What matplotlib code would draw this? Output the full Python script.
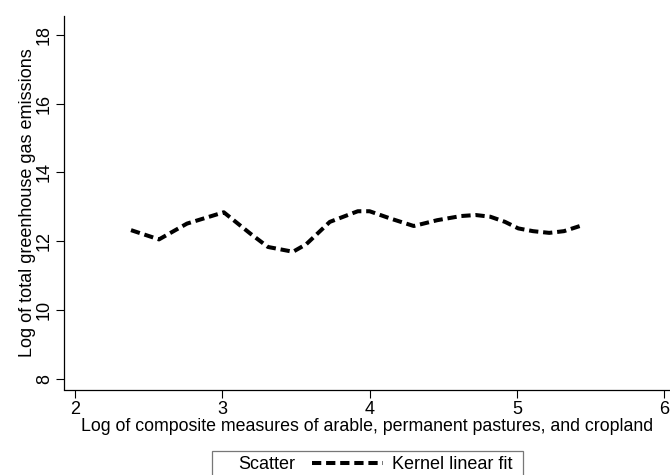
import matplotlib
matplotlib.use("Agg")
import matplotlib.pyplot as plt
from matplotlib.lines import Line2D
from matplotlib.legend_handler import HandlerLine2D

plt.rcParams['font.family'] = ['Liberation Sans', 'DejaVu Sans']

# Kernel linear fit of log emissions on log land measure
land_log = [2.38, 2.57, 2.76, 3.01, 3.19, 3.31, 3.48, 3.57, 3.73, 3.92, 4.00,
            4.14, 4.30, 4.46, 4.62, 4.72, 4.82, 4.92, 5.01, 5.11, 5.22, 5.32, 5.45]
ghg_fit = [12.32, 12.05, 12.51, 12.84, 12.22, 11.83, 11.69, 11.91, 12.56, 12.87, 12.87,
           12.66, 12.44, 12.61, 12.73, 12.76, 12.71, 12.56, 12.37, 12.29, 12.24, 12.29, 12.47]

x_ticks = [2, 3, 4, 5, 6]
y_ticks = [8, 10, 12, 14, 16, 18]

FS = 13
DPI = 100


class WideLineHandler(HandlerLine2D):
    """Line key drawn in a wider slot than the legend's default handle."""

    def __init__(self, width_pt, **kw):
        super().__init__(**kw)
        self.width_pt = width_pt

    def legend_artist(self, legend, orig_handle, fontsize, handlebox):
        handlebox.width = self.width_pt
        return super().legend_artist(legend, orig_handle, fontsize, handlebox)


fig = plt.figure(figsize=(6.7, 4.75), dpi=DPI)
ax = fig.add_axes([0.0955, 0.180, 0.9045, 0.786])

dash = (0, (2.3, 1.2))
ax.plot(land_log, ghg_fit, color='black', lw=2.9, linestyle=dash,
        dash_capstyle='butt', solid_capstyle='butt')

ax.set_xlim(1.925, 6.04)
ax.set_ylim(7.68, 18.55)
ax.set_xticks(x_ticks)
ax.set_yticks(y_ticks)
ax.tick_params(axis='both', direction='out', length=6, width=0.8, labelsize=FS, pad=2)
for lab in ax.get_yticklabels():
    lab.set_rotation(90)
    lab.set_va('center')

for side in ('top', 'right'):
    ax.spines[side].set_visible(False)
for side in ('left', 'bottom'):
    ax.spines[side].set_linewidth(0.9)

ax.set_xlabel('Log of composite measures of arable, permanent pastures, and cropland',
              fontsize=12.8, labelpad=0)
ax.set_ylabel('Log of total greenhouse gas emissions', fontsize=FS, labelpad=0)

scatter_key = Line2D([], [], linestyle='none', marker=None)
fit_key = Line2D([], [], color='black', lw=2.9, linestyle=dash, dash_capstyle='butt')
leg = fig.legend([scatter_key, fit_key], ['Scatter', 'Kernel linear fit '], ncol=2,
                 loc='upper left', bbox_to_anchor=(212 / 670, 1 - 451 / 475),
                 frameon=True, fancybox=False, fontsize=FS, handlelength=0.65,
                 handletextpad=0.5, columnspacing=0.95, borderpad=0.28,
                 borderaxespad=0.0,
                 handler_map={fit_key: WideLineHandler(71 * 72 / DPI)})
leg.get_frame().set_edgecolor('#555555')
leg.get_frame().set_linewidth(0.9)

fig.savefig('out.png', dpi=DPI)
